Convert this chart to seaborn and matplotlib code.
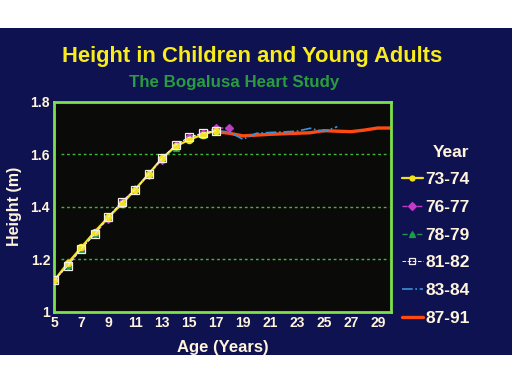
import matplotlib.pyplot as plt
import matplotlib.patches as mpatches
import seaborn as sns
import pandas as pd

C_FUNDO = "#0f1250"
C_TEXTO = "#fff4dc"
C_VERDE = "#7ee04a"
C_GRADE = "#3fb83a"

idades_criancas = [5, 6, 7, 8, 9, 10, 11, 12, 13, 14, 15, 16, 17]
idades_76 = [5, 6, 7, 8, 9, 10, 11, 12, 13, 14, 15, 16, 17, 18]
idades_83 = [17, 18, 19, 20, 21, 22, 23, 24, 25, 26]
idades_87 = [17, 18, 19, 20, 21, 22, 23, 24, 25, 26, 27, 28, 29, 30]

altura_73 = [1.12, 1.185, 1.245, 1.305, 1.36, 1.41, 1.465, 1.525, 1.585, 1.63, 1.655, 1.675, 1.69]
altura_76 = [1.12, 1.175, 1.24, 1.295, 1.355, 1.42, 1.465, 1.52, 1.58, 1.635, 1.665, 1.68, 1.70, 1.70]
altura_78 = [1.12, 1.18, 1.24, 1.30, 1.36, 1.41, 1.47, 1.525, 1.585, 1.625, 1.66, 1.675, 1.69]
altura_81 = [1.12, 1.175, 1.24, 1.295, 1.36, 1.42, 1.465, 1.525, 1.585, 1.635, 1.665, 1.68, 1.69]
altura_83 = [1.69, 1.685, 1.657, 1.68, 1.683, 1.685, 1.688, 1.699, 1.686, 1.705]
altura_87 = [1.686, 1.68, 1.67, 1.673, 1.676, 1.678, 1.68, 1.682, 1.69, 1.688, 1.686, 1.692, 1.70, 1.70]

anos = ["73-74", "76-77", "78-79", "81-82", "83-84", "87-91"]
ticks_x = [5, 7, 9, 11, 13, 15, 17, 19, 21, 23, 25, 27, 29]
ticks_y = [1.0, 1.2, 1.4, 1.6, 1.8]
rotulos_y = ["1", "1.2", "1.4", "1.6", "1.8"]

series = [
    (anos[0], idades_criancas, altura_73, dict(color="#f2e21c", marker="o", markersize=4.5, linestyle="-", linewidth=1.6, zorder=4)),
    (anos[1], idades_76, altura_76, dict(color="#c03cc8", marker="D", markersize=4.5, linestyle="--", linewidth=1.0, zorder=3)),
    (anos[2], idades_criancas, altura_78, dict(color="#1e9a4a", marker="^", markersize=5, linestyle="--", linewidth=1.0, zorder=3)),
    (anos[3], idades_criancas, altura_81, dict(color="#f4f0e6", marker="s", markersize=5.5, markerfacecolor="none", linestyle="--", linewidth=0.7, zorder=5)),
    (anos[4], idades_83, altura_83, dict(color="#3a92d8", linestyle="-.", linewidth=1.2, zorder=3)),
    (anos[5], idades_87, altura_87, dict(color="#ff4a12", linestyle="-", linewidth=2.4, zorder=2)),
]

sns.set_theme(style="dark")
plt.rcParams['font.family'] = ['Liberation Sans', 'DejaVu Sans']

fig = plt.figure(figsize=(5.12, 3.84), dpi=100, facecolor="white")
fig.patches.append(mpatches.Rectangle((0, 0.0755), 1, 0.852, transform=fig.transFigure,
                                      facecolor=C_FUNDO, edgecolor="none", zorder=-10))

ax = fig.add_axes([0.106, 0.188, 0.658, 0.547])
ax.set_zorder(2)
ax.set_facecolor("#0a0a08")

for nome, x, y, estilo in series:
    df = pd.DataFrame({"Idade": x, "Altura": y})
    sns.lineplot(data=df, x="Idade", y="Altura", ax=ax, label=nome,
                 markeredgewidth=0.9, markeredgecolor=estilo["color"], **estilo)

ax.set_xlim(5, 30)
ax.set_ylim(1.0, 1.8)
ax.set_xticks(ticks_x)
ax.set_yticks(ticks_y)
ax.set_yticklabels(rotulos_y)
ax.tick_params(length=0, colors=C_TEXTO, labelsize=10, pad=3)
for lab in ax.get_xticklabels() + ax.get_yticklabels():
    lab.set_fontweight("bold")

ax.grid(False)
for v in [1.2, 1.4, 1.6]:
    ax.axhline(v, xmin=0.02, xmax=0.995, color=C_GRADE, linestyle=(0, (2, 2)), linewidth=1.0, zorder=1)

for s in ax.spines.values():
    s.set_color(C_VERDE)
    s.set_linewidth(2)
    s.set_visible(True)

ax.set_xlabel("Age (Years)", fontsize=12, weight="bold", color=C_TEXTO, labelpad=7)
ax.set_ylabel("Height (m)", fontsize=11.5, weight="bold", color=C_TEXTO, labelpad=6)

fig.text(0.493, 0.852, "Height in Children and Young Adults", ha="center", va="center",
         fontsize=15.8, weight="bold", color="#f8ec1c")
fig.text(0.458, 0.786, "The Bogalusa Heart Study", ha="center", va="center",
         fontsize=12.2, weight="bold", color="#2a9c3e")

leg = ax.legend(title="Year", loc="upper left", bbox_to_anchor=(0.985, 0.87), frameon=False,
                fontsize=12.5, title_fontsize=12.5, handlelength=1.2, handletextpad=0.15,
                labelspacing=0.72, markerscale=0.8)
leg.get_title().set_fontweight("bold")
leg.get_title().set_color(C_TEXTO)
leg._legend_box.align = "right"
for t in leg.get_texts():
    t.set_color(C_TEXTO)
    t.set_fontweight("bold")

fig.savefig("out.png", dpi=100, facecolor="white")
plt.close(fig)
